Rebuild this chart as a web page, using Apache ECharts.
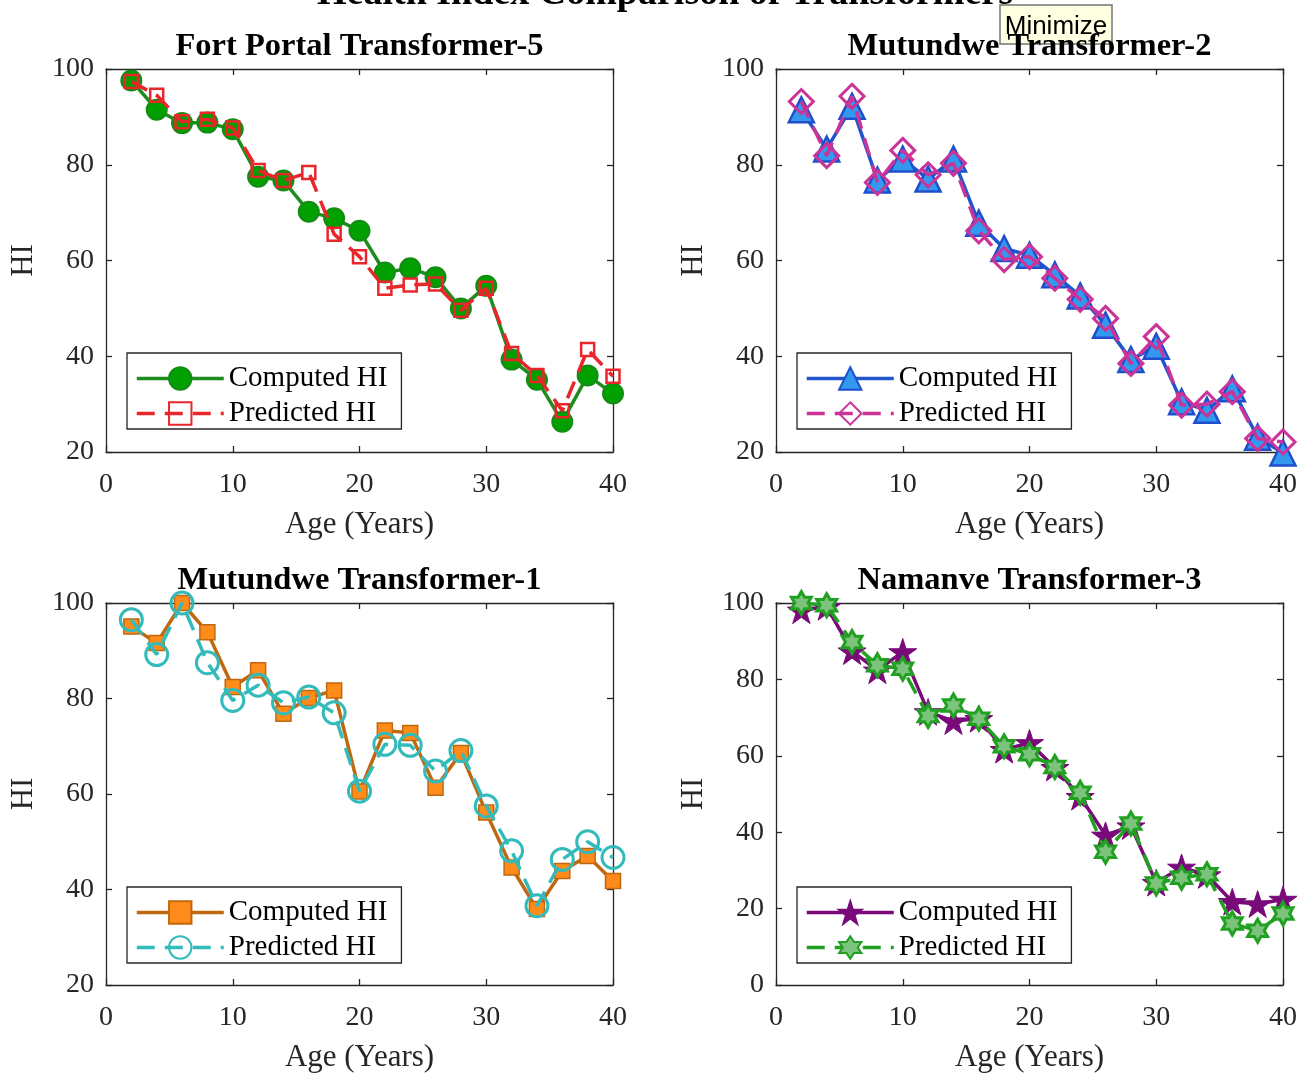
<!DOCTYPE html>
<html>
<head>
<meta charset="utf-8">
<script src="https://cdn.jsdelivr.net/npm/echarts@6/dist/echarts.min.js"></script>
<style>html,body{margin:0;padding:0;background:#fff;}#c{width:1308px;height:1074px;}</style>
</head>
<body>
<div id="c"></div>
<script>
// ---- data ----
const mainTitle = 'Health Index Comparison of Transformers';
const panelTitles = ['Fort Portal Transformer-5', 'Mutundwe Transformer-2', 'Mutundwe Transformer-1', 'Namanve Transformer-3'];
const ages = [2,4,6,8,10,12,14,16,18,20,22,24,26,28,30,32,34,36,38,40];
const xTicks = [0,10,20,30,40];

const fortPortal5Computed  = [97.6,91.5,88.7,88.8,87.4,77.5,76.7,70.2,68.8,66.2,57.5,58.4,56.5,50.0,54.7,39.3,35.1,26.3,36.0,32.2];
const fortPortal5Predicted = [97.4,94.5,89.0,89.5,87.7,78.8,76.7,78.4,65.5,60.8,54.2,54.9,55.1,49.6,54.2,40.6,36.0,28.6,41.4,35.8];

const mutundwe2Computed  = [91.5,83.3,92.2,76.8,81.2,77.0,81.2,67.8,62.5,61.1,57.0,52.6,46.5,39.3,42.1,30.5,28.7,33.2,23.1,19.8];
const mutundwe2Predicted = [93.2,81.9,94.3,76.3,83.0,77.9,80.3,66.2,60.2,60.8,56.3,51.9,47.9,38.5,44.1,29.8,30.0,32.6,22.8,22.1];

const mutundwe1Computed  = [95.1,91.6,100.0,93.9,82.4,85.9,76.8,80.1,81.7,60.5,73.3,72.8,61.3,68.6,56.1,44.6,35.9,43.9,47.0,41.8];
const mutundwe1Predicted = [96.5,89.2,100.0,87.5,79.6,82.8,79.1,80.3,77.0,60.6,70.4,70.2,64.8,69.1,57.5,48.1,36.6,46.3,50.0,46.7];

const namanve3Computed  = [98.1,99.0,87.4,82.4,87.2,71.5,69.1,69.7,61.6,63.4,56.9,49.3,39.2,41.6,26.8,30.8,28.8,21.8,21.2,22.4];
const namanve3Predicted = [100.0,99.4,89.8,83.7,82.8,70.4,73.2,69.7,62.5,60.4,57.1,50.3,34.9,42.3,26.6,28.1,29.0,16.1,14.2,18.7];

const yRanges = [[20,100],[20,100],[20,100],[0,100]];
const seriesNames = ['Computed HI', 'Predicted HI'];

// ---- helpers ----
const SERIF = 'Liberation Serif';
const AX = '#262626';
const STAR = 'path://M50,0L61.23,34.55L97.55,34.55L68.16,55.9L79.39,90.45L50,69.1L20.61,90.45L31.84,55.9L2.45,34.55L38.77,34.55Z';
const HEXA = 'path://M50,0L64.43,25L93.3,25L78.87,50L93.3,75L64.43,75L50,100L35.57,75L6.7,75L21.13,50L6.7,25L35.57,25Z';
const pairs = ys => ages.map((a, i) => [a, ys[i]]);

const grids = [
  {left:106, top:69,  width:507, height:383},
  {left:776, top:69,  width:507, height:383},
  {left:106, top:603, width:507, height:383},
  {left:776, top:603, width:507, height:383}
];

const styles = [
  [ {line:'#1E8C1E', dash:false, symbol:'circle', size:20, fill:'#00A000', border:'#148C14', bw:2},
    {line:'#E8262B', dash:true,  symbol:'rect',   size:13, fill:'rgba(0,0,0,0)', border:'#E8262B', bw:2.5} ],
  [ {line:'#2255CC', dash:false, symbol:'triangle', size:25, fill:'#3399EE', border:'#1F4FCC', bw:2.5},
    {line:'#CC3399', dash:true,  symbol:'diamond',  size:24, fill:'rgba(0,0,0,0)', border:'#CC3399', bw:3} ],
  [ {line:'#C0680F', dash:false, symbol:'rect',   size:15, fill:'#FF8C1A', border:'#C0680F', bw:1.5},
    {line:'#33BBBB', dash:true,  symbol:'circle', size:22, fill:'rgba(0,0,0,0)', border:'#33BBBB', bw:3} ],
  [ {line:'#7A0A7A', dash:false, symbol:STAR, size:28, fill:'#7A0A7A', border:'#7A0A7A', bw:1},
    {line:'#22A022', dash:true,  symbol:HEXA, size:23, fill:'#7CC47C', border:'#22A022', bw:3} ]
];
const dataSets = [
  [fortPortal5Computed, fortPortal5Predicted],
  [mutundwe2Computed, mutundwe2Predicted],
  [mutundwe1Computed, mutundwe1Predicted],
  [namanve3Computed, namanve3Predicted]
];

const xAxis = [], yAxis = [], series = [], legend = [], title = [];
grids.forEach((g, i) => {
  const [ymin, ymax] = yRanges[i];
  xAxis.push({
    type:'value', gridIndex:i, position:'bottom', min:0, max:40, interval:10,
    axisLine:{show:true, onZero:false, lineStyle:{color:AX, width:1.3}},
    axisTick:{show:true, inside:true, length:6, lineStyle:{color:AX, width:1.3}},
    axisLabel:{show:true, margin:19, color:'#262626', fontFamily:SERIF, fontSize:28},
    splitLine:{show:false},
    name:'Age (Years)', nameLocation:'middle', nameGap:57,
    nameTextStyle:{fontFamily:SERIF, fontSize:31, color:'#262626'}
  });
  xAxis.push({
    type:'value', gridIndex:i, position:'top', min:0, max:40, interval:10,
    axisLine:{show:true, onZero:false, lineStyle:{color:AX, width:1.3}},
    axisTick:{show:true, inside:true, length:6, lineStyle:{color:AX, width:1.3}},
    axisLabel:{show:false}, splitLine:{show:false}
  });
  yAxis.push({
    type:'value', gridIndex:i, position:'left', min:ymin, max:ymax, interval:20,
    axisLine:{show:true, onZero:false, lineStyle:{color:AX, width:1.3}},
    axisTick:{show:true, inside:true, length:6, lineStyle:{color:AX, width:1.3}},
    axisLabel:{show:true, margin:12, color:'#262626', fontFamily:SERIF, fontSize:28, padding:[6,0,0,0]},
    splitLine:{show:false},
    name:'HI', nameLocation:'middle', nameGap:67,
    nameTextStyle:{fontFamily:SERIF, fontSize:31, color:'#262626'}
  });
  yAxis.push({
    type:'value', gridIndex:i, position:'right', min:ymin, max:ymax, interval:20,
    axisLine:{show:true, onZero:false, lineStyle:{color:AX, width:1.3}},
    axisTick:{show:true, inside:true, length:6, lineStyle:{color:AX, width:1.3}},
    axisLabel:{show:false}, splitLine:{show:false}
  });
  const names = [];
  styles[i].forEach((s, k) => {
    const nm = seriesNames[k] + '#' + i;
    names.push(nm);
    series.push({
      type:'line', name:nm, xAxisIndex:2*i, yAxisIndex:2*i,
      data:pairs(dataSets[i][k]), clip:false, animation:false,
      symbol:s.symbol, symbolSize:s.size, symbolKeepAspect:true, showAllSymbol:true,
      lineStyle:{color:s.line, width:3.5, type: s.dash ? [18,10] : 'solid'},
      itemStyle:{color:s.fill, borderColor:s.border, borderWidth:s.bw},
      z: 2 + k
    });
  });
  legend.push({
    data:names, orient:'vertical', left:g.left + 21, top:g.top + 284,
    itemWidth:87, itemHeight:28, itemGap:6, padding:[11,14,1,8],
    borderColor:AX, borderWidth:1.3, backgroundColor:'#fff',
    selectedMode:false,
    lineStyle:{width:3.5},
    formatter: n => n.split('#')[0],
    textStyle:{fontFamily:SERIF, fontSize:29, color:'#000'}
  });
  title.push({
    text:panelTitles[i], left:g.left + g.width/2, top:g.top - 39, textAlign:'center', padding:0,
    textStyle:{fontFamily:SERIF, fontWeight:'bold', fontSize:32.5, color:'#000'}
  });
});

// main title, mostly cut off at the top edge as in the reference
title.push({
  text:mainTitle, left:665, top:-25, textAlign:'center', padding:0,
  textStyle:{fontFamily:SERIF, fontWeight:'bold', fontSize:38, color:'#000'}
});

const chart = echarts.init(document.getElementById('c'), null, {renderer:'canvas'});
chart.setOption({
  animation:false,
  backgroundColor:'#fff',
  grid:grids, xAxis, yAxis, series, legend, title,
  graphic:[
    {type:'group', z:100, children:[
      {type:'rect', shape:{x:1000, y:5, width:112, height:39}, style:{fill:'#FFFFE1', stroke:'#767676', lineWidth:1.5}},
      {type:'text', x:1056, y:27, style:{text:'Minimize', align:'center', verticalAlign:'middle',
            font:'26px "Liberation Sans"', fill:'#000'}}
    ]}
  ]
});
</script>
</body>
</html>
